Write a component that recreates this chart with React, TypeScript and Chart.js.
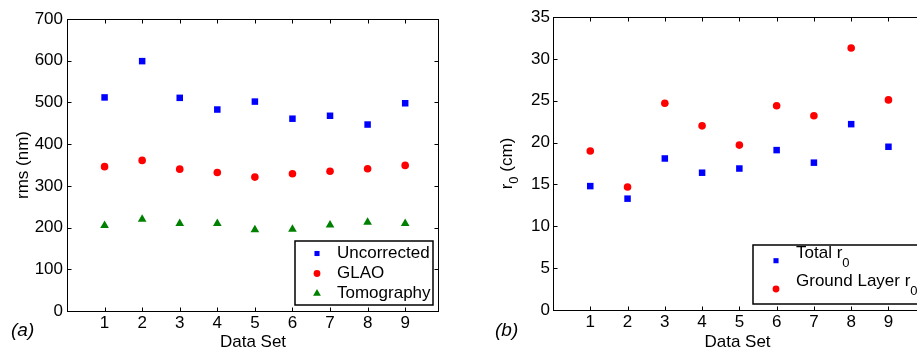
import React, { useEffect, useRef } from "react";
import { Chart, registerables } from "chart.js";

Chart.register(...registerables);

// ---------------- data ----------------
const dataSets = [1, 2, 3, 4, 5, 6, 7, 8, 9];
const xTickLabels = ["1", "2", "3", "4", "5", "6", "7", "8", "9"];

const uncorrected = [512, 599, 511, 483, 502, 461, 468, 447, 498];
const glao = [346, 361, 340, 332, 321, 329, 335, 341, 349];
const tomography = [205, 220, 210, 210, 195, 196, 206, 213, 210];
const rmsTicks = [0, 100, 200, 300, 400, 500, 600, 700];

const totalR0 = [14.8, 13.3, 18.1, 16.4, 16.9, 19.1, 17.6, 22.2, 19.5];
const groundLayerR0 = [19.0, 14.7, 24.7, 22.0, 19.7, 24.4, 23.2, 31.3, 25.1];
const r0Ticks = [0, 5, 10, 15, 20, 25, 30, 35];

const FAMILY = '"Liberation Sans", Arial, Helvetica, sans-serif';
const BLUE = "#0000ff";
const RED = "#ff0000";
const GREEN = "#008000";

type Part = { t: string; sub?: boolean };

function splitSub(s: string): Part[] {
  const parts: Part[] = [];
  let buf = "";
  for (const ch of s) {
    const code = ch.codePointAt(0) as number;
    if (code >= 0x2080 && code <= 0x2089) {
      if (buf) parts.push({ t: buf });
      buf = "";
      parts.push({ t: String(code - 0x2080), sub: true });
    } else buf += ch;
  }
  if (buf) parts.push({ t: buf });
  return parts;
}

function drawRich(
  ctx: CanvasRenderingContext2D,
  text: string,
  x: number,
  y: number,
  align: "left" | "center",
  size: number,
  subSize: number,
  subDy: number
) {
  const parts = splitSub(text);
  const widths = parts.map((p) => {
    ctx.font = `${p.sub ? subSize : size}px ${FAMILY}`;
    return ctx.measureText(p.t).width;
  });
  const total = widths.reduce((a, b) => a + b, 0);
  let cx = align === "center" ? x - total / 2 : x;
  ctx.textAlign = "left";
  ctx.textBaseline = "middle";
  ctx.fillStyle = "#000";
  parts.forEach((p, i) => {
    ctx.font = `${p.sub ? subSize : size}px ${FAMILY}`;
    ctx.fillText(p.t, cx, y + (p.sub ? subDy : 0));
    cx += widths[i];
  });
}

function drawMarker(
  ctx: CanvasRenderingContext2D,
  style: string,
  x: number,
  y: number,
  r: number,
  color: string
) {
  ctx.fillStyle = color;
  ctx.beginPath();
  if (style === "rect") {
    const s = r / Math.SQRT2;
    ctx.rect(x - s, y - s, 2 * s, 2 * s);
  } else if (style === "triangle") {
    let rad = 0;
    ctx.moveTo(x + Math.sin(rad) * r, y - Math.cos(rad) * r);
    rad += (2 * Math.PI) / 3;
    ctx.lineTo(x + Math.sin(rad) * r, y - Math.cos(rad) * r);
    rad += (2 * Math.PI) / 3;
    ctx.lineTo(x + Math.sin(rad) * r, y - Math.cos(rad) * r);
    ctx.closePath();
  } else {
    ctx.arc(x, y, r, 0, Math.PI * 2);
  }
  ctx.fill();
}

type DecorCfg = {
  xTitle: string;
  yTitle: string;
  yTitleX: number;
  panel: string;
  panelX: number;
  legend: {
    x: number;
    y: number;
    w: number;
    h: number;
    markerDx: number;
    textDx: number;
    rows: number[];
    markerR: number[];
  };
};

function makeDecor(cfg: DecorCfg) {
  return {
    id: "decor",
    afterDatasetsDraw(chart: any) {
      const ctx: CanvasRenderingContext2D = chart.ctx;
      const { left, right, top, bottom } = chart.chartArea;
      const xs = chart.scales.x;
      const ys = chart.scales.y;
      ctx.save();
      // frame
      ctx.strokeStyle = "#000";
      ctx.lineWidth = 1;
      const L = Math.round(left) + 0.5;
      const R = Math.round(right) - 0.5;
      const T = Math.round(top) + 0.5;
      const B = Math.round(bottom) + 0.5;
      ctx.strokeRect(L, T, R - L, B - T);
      // inward ticks
      const tl = 4;
      ctx.beginPath();
      xs.ticks.forEach((t: any) => {
        const px = Math.round(xs.getPixelForValue(t.value)) + 0.5;
        ctx.moveTo(px, B);
        ctx.lineTo(px, B - tl);
        ctx.moveTo(px, T);
        ctx.lineTo(px, T + tl);
      });
      ys.ticks.forEach((t: any) => {
        const py = Math.round(ys.getPixelForValue(t.value)) + 0.5;
        ctx.moveTo(L, py);
        ctx.lineTo(L + tl, py);
        ctx.moveTo(R, py);
        ctx.lineTo(R - tl, py);
      });
      ctx.stroke();

      // axis titles
      drawRich(ctx, cfg.xTitle, (left + right) / 2, 342, "center", 17, 13, 7);
      ctx.save();
      ctx.translate(cfg.yTitleX, (top + bottom) / 2);
      ctx.rotate(-Math.PI / 2);
      drawRich(ctx, cfg.yTitle, 0, 0, "center", 17, 13, 7);
      ctx.restore();

      // panel label
      ctx.font = `italic 19px ${FAMILY}`;
      ctx.textAlign = "left";
      ctx.textBaseline = "middle";
      ctx.fillStyle = "#000";
      ctx.fillText(cfg.panel, cfg.panelX, 331);

      // legend
      const lg = cfg.legend;
      ctx.fillStyle = "#fff";
      ctx.fillRect(lg.x, lg.y, lg.w, lg.h);
      ctx.strokeStyle = "#000";
      ctx.lineWidth = 1.5;
      ctx.strokeRect(lg.x, lg.y, lg.w, lg.h);
      chart.data.datasets.forEach((ds: any, i: number) => {
        const ry = lg.y + lg.rows[i];
        drawMarker(ctx, ds.pointStyle, lg.x + lg.markerDx, ry, lg.markerR[i], ds.backgroundColor);
        const hasSub = splitSub(ds.label).some((p) => p.sub);
        drawRich(ctx, ds.label, lg.x + lg.textDx, ry + (hasSub ? -7.5 : 0), "left", 17, 13, 10);
      });
      ctx.restore();
    },
  };
}

function scaleOpts(
  yTicks: number[],
  yWidth: number,
  xHeight: number,
  yPad: number
) {
  const tickFont = { family: FAMILY, size: 17 };
  return {
    x: {
      type: "linear",
      min: 0,
      max: 9.9,
      afterBuildTicks: (s: any) => {
        s.ticks = dataSets.map((v) => ({ value: v }));
      },
      afterFit: (s: any) => {
        s.height = xHeight;
      },
      grid: { display: false, drawTicks: false },
      border: { display: false },
      ticks: {
        font: tickFont,
        color: "#000",
        padding: 2,
        maxRotation: 0,
        autoSkip: false,
        callback: (v: any) => {
          const i = dataSets.indexOf(Number(v));
          return i >= 0 ? xTickLabels[i] : "";
        },
      },
    },
    y: {
      type: "linear",
      min: yTicks[0],
      max: yTicks[yTicks.length - 1],
      afterBuildTicks: (s: any) => {
        s.ticks = yTicks.map((v) => ({ value: v }));
      },
      afterFit: (s: any) => {
        s.width = yWidth;
      },
      grid: { display: false, drawTicks: false },
      border: { display: false },
      ticks: {
        font: tickFont,
        color: "#000",
        padding: yPad,
        autoSkip: false,
        callback: (v: any) => String(v),
      },
    },
  };
}

function pts(vals: number[]) {
  return dataSets.map((x, i) => ({ x, y: vals[i] }));
}

function leftConfig(): any {
  return {
    type: "scatter",
    data: {
      datasets: [
        { label: "Uncorrected", data: pts(uncorrected), pointStyle: "rect", pointRadius: 4.6, backgroundColor: BLUE, borderColor: BLUE, borderWidth: 0 },
        { label: "GLAO", data: pts(glao), pointStyle: "circle", pointRadius: 3.8, backgroundColor: RED, borderColor: RED, borderWidth: 0 },
        { label: "Tomography", data: pts(tomography), pointStyle: "triangle", pointRadius: 5, backgroundColor: GREEN, borderColor: GREEN, borderWidth: 0 },
      ],
    },
    options: {
      responsive: false,
      animation: false,
      devicePixelRatio: 1,
      layout: { padding: { top: 19, right: 21, left: 0, bottom: 0 } },
      plugins: { legend: { display: false }, tooltip: { enabled: false } },
      scales: scaleOpts(rmsTicks, 67, 38, 4),
    },
    plugins: [
      makeDecor({
        xTitle: "Data Set",
        yTitle: "rms (nm)",
        yTitleX: 23,
        panel: "(a)",
        panelX: 11,
        legend: { x: 295, y: 241, w: 138, h: 64, markerDx: 22, textDx: 42, rows: [12.5, 32.5, 52.5], markerR: [3.6, 3.4, 4.5] },
      }),
    ],
  };
}

function rightConfig(): any {
  return {
    type: "scatter",
    data: {
      datasets: [
        { label: "Total r₀", data: pts(totalR0), pointStyle: "rect", pointRadius: 4.6, backgroundColor: BLUE, borderColor: BLUE, borderWidth: 0 },
        { label: "Ground Layer r₀", data: pts(groundLayerR0), pointStyle: "circle", pointRadius: 3.8, backgroundColor: RED, borderColor: RED, borderWidth: 0 },
      ],
    },
    options: {
      responsive: false,
      animation: false,
      devicePixelRatio: 1,
      layout: { padding: { top: 17, right: 38, left: 0, bottom: 0 } },
      plugins: { legend: { display: false }, tooltip: { enabled: false } },
      scales: scaleOpts(r0Ticks, 93, 39, 3),
    },
    plugins: [
      makeDecor({
        xTitle: "Data Set",
        yTitle: "r₀ (cm)",
        yTitleX: 47,
        panel: "(b)",
        panelX: 35,
        legend: { x: 293, y: 245, w: 180, h: 59, markerDx: 23, textDx: 43, rows: [15.7, 44], markerR: [3.6, 3.4] },
      }),
    ],
  };
}

export default function App() {
  const leftRef = useRef<HTMLCanvasElement>(null);
  const rightRef = useRef<HTMLCanvasElement>(null);
  useEffect(() => {
    const c1 = new Chart(leftRef.current as HTMLCanvasElement, leftConfig());
    const c2 = new Chart(rightRef.current as HTMLCanvasElement, rightConfig());
    return () => {
      c1.destroy();
      c2.destroy();
    };
  }, []);
  return (
    <div
      style={{
        position: "fixed",
        left: 0,
        top: 0,
        width: 917,
        height: 349,
        overflow: "hidden",
        background: "#fff",
      }}
    >
      <canvas ref={leftRef} width={460} height={349} style={{ position: "absolute", left: 0, top: 0 }} />
      <canvas ref={rightRef} width={500} height={349} style={{ position: "absolute", left: 460, top: 0 }} />
    </div>
  );
}
